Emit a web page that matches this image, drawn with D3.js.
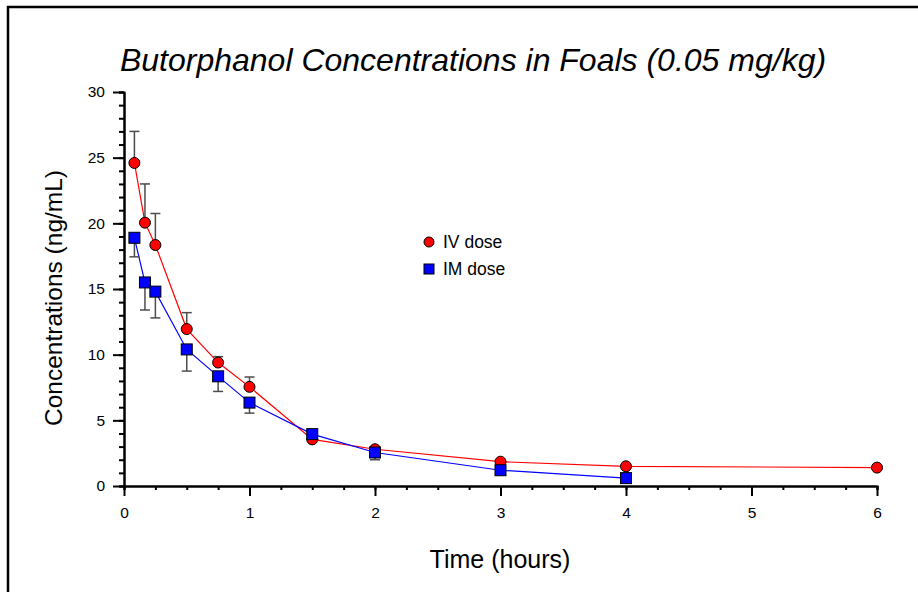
<!DOCTYPE html>
<html lang="en">
<head>
<meta charset="utf-8">
<title>Butorphanol Concentrations in Foals</title>
<script src="https://d3js.org/d3.v7.min.js"></script>
<style>
  body { margin: 0; background: #fff; }
  svg { display: block; }
  svg text { font-family: Arial, "Liberation Sans", sans-serif; }
  svg .tick text { font-size: 15.5px; }
</style>
</head>
<body>
<div id="chart"></div>
<script>

// IV dose (red circles), error bars go up
var ivTimes = [0.083, 0.167, 0.25, 0.5, 0.75, 1, 1.5, 2, 3, 4, 6];
var ivConc  = [24.6, 20.05, 18.35, 11.95, 9.4, 7.55, 3.55, 2.8, 1.85, 1.5, 1.4];
var ivErr   = [2.4, 2.95, 2.4, 1.25, 0.45, 0.75, 0, 0.1, 0, 0, 0];

// IM dose (blue squares), error bars go down
var imTimes = [0.083, 0.167, 0.25, 0.5, 0.75, 1, 1.5, 2, 3, 4];
var imConc  = [18.9, 15.5, 14.8, 10.4, 8.35, 6.35, 3.95, 2.55, 1.2, 0.6];
var imErr   = [1.45, 2.1, 2.0, 1.65, 1.15, 0.8, 0, 0.55, 0, 0];

var xMajor = [0, 1, 2, 3, 4, 5, 6];
var yMajor = [0, 5, 10, 15, 20, 25, 30];

var width = 918, height = 592;

var svg = d3.select("#chart").append("svg")
    .attr("width", width)
    .attr("height", height);

// frame (only top and left edges fall inside the picture)
svg.append("rect")
    .attr("x", 8).attr("y", 7)
    .attr("width", 1200).attr("height", 1200)
    .attr("fill", "none")
    .attr("stroke", "#000")
    .attr("stroke-width", 2.5);

var x = d3.scaleLinear().domain([0, 6]).range([124, 877]);
var y = d3.scaleLinear().domain([0, 30]).range([486, 92]);

var ivData = ivTimes.map(function(t, i) { return {t: t, c: ivConc[i], e: ivErr[i]}; });
var imData = imTimes.map(function(t, i) { return {t: t, c: imConc[i], e: imErr[i]}; });

function styleAxis(g) {
    g.select(".domain").attr("stroke", "#000").attr("stroke-width", 2);
    g.selectAll(".tick line").attr("stroke", "#000").attr("stroke-width", 2);
    g.selectAll(".tick text")
        .attr("fill", "#000")
        .attr("font-size", 15.5)
        .style("font-size", "15.5px");
}

// minor ticks
svg.append("g")
    .attr("transform", "translate(0,486)")
    .call(d3.axisBottom(x).tickValues(d3.range(0, 6.01, 0.25)).tickSize(4).tickFormat(""))
    .call(styleAxis);
svg.append("g")
    .attr("transform", "translate(124,0)")
    .call(d3.axisLeft(y).tickValues(d3.range(0, 30.1, 1)).tickSize(5).tickFormat(""))
    .call(styleAxis);

// major ticks
svg.append("g")
    .attr("transform", "translate(0,486)")
    .call(d3.axisBottom(x).tickValues(xMajor).tickFormat(d3.format("d"))
        .tickSize(10).tickSizeOuter(0).tickPadding(11))
    .call(styleAxis);
svg.append("g")
    .attr("transform", "translate(124,0)")
    .call(d3.axisLeft(y).tickValues(yMajor).tickFormat(d3.format("d"))
        .tickSize(11).tickSizeOuter(0).tickPadding(8))
    .call(styleAxis);

var line = d3.line()
    .x(function(d) { return x(d.t); })
    .y(function(d) { return y(d.c); });

svg.append("path").datum(ivData)
    .attr("d", line)
    .attr("fill", "none")
    .attr("stroke", "#ff0000")
    .attr("stroke-width", 1.2);

svg.append("path").datum(imData)
    .attr("d", line)
    .attr("fill", "none")
    .attr("stroke", "#0000ff")
    .attr("stroke-width", 1.2);

// error bars
function errorBars(data, dir) {
    var g = svg.append("g")
        .attr("stroke", "#4d4d4d")
        .attr("stroke-width", 1.5);
    var d2 = data.filter(function(d) { return d.e > 0; });
    g.selectAll("line.bar").data(d2).enter().append("line")
        .attr("x1", function(d) { return x(d.t); })
        .attr("x2", function(d) { return x(d.t); })
        .attr("y1", function(d) { return y(d.c); })
        .attr("y2", function(d) { return y(d.c + dir * d.e); });
    g.selectAll("line.cap").data(d2).enter().append("line")
        .attr("x1", function(d) { return x(d.t) - 5; })
        .attr("x2", function(d) { return x(d.t) + 5; })
        .attr("y1", function(d) { return y(d.c + dir * d.e); })
        .attr("y2", function(d) { return y(d.c + dir * d.e); });
}
errorBars(ivData, 1);
errorBars(imData, -1);

// markers
svg.selectAll("circle.iv").data(ivData).enter().append("circle")
    .attr("cx", function(d) { return x(d.t); })
    .attr("cy", function(d) { return y(d.c); })
    .attr("r", 5.5)
    .attr("fill", "#ff0000")
    .attr("stroke", "#000")
    .attr("stroke-width", 1);

svg.selectAll("rect.im").data(imData).enter().append("rect")
    .attr("x", function(d) { return x(d.t) - 5.5; })
    .attr("y", function(d) { return y(d.c) - 5.5; })
    .attr("width", 11)
    .attr("height", 11)
    .attr("fill", "#0000ff")
    .attr("stroke", "#000")
    .attr("stroke-width", 1);

// legend
var legend = svg.append("g").attr("transform", "translate(429,242)");
legend.append("circle")
    .attr("cx", 0).attr("cy", 0).attr("r", 5)
    .attr("fill", "#ff0000").attr("stroke", "#000").attr("stroke-width", 1);
legend.append("text")
    .attr("x", 14).attr("y", 6)
    .attr("font-size", 17.5)
    .text("IV dose");
legend.append("rect")
    .attr("x", -5).attr("y", 22).attr("width", 10).attr("height", 10)
    .attr("fill", "#0000ff").attr("stroke", "#000").attr("stroke-width", 1);
legend.append("text")
    .attr("x", 14).attr("y", 33)
    .attr("font-size", 17.5)
    .text("IM dose");

// titles
svg.append("text")
    .attr("x", 473).attr("y", 71)
    .attr("text-anchor", "middle")
    .attr("font-size", 32)
    .attr("font-style", "italic")
    .text("Butorphanol Concentrations in Foals (0.05 mg/kg)");

svg.append("text")
    .attr("x", 500).attr("y", 568)
    .attr("text-anchor", "middle")
    .attr("font-size", 25)
    .text("Time (hours)");

svg.append("text")
    .attr("transform", "translate(62,298)rotate(-90)")
    .attr("text-anchor", "middle")
    .attr("font-size", 24.5)
    .text("Concentrations (ng/mL)");

</script>
</body>
</html>
